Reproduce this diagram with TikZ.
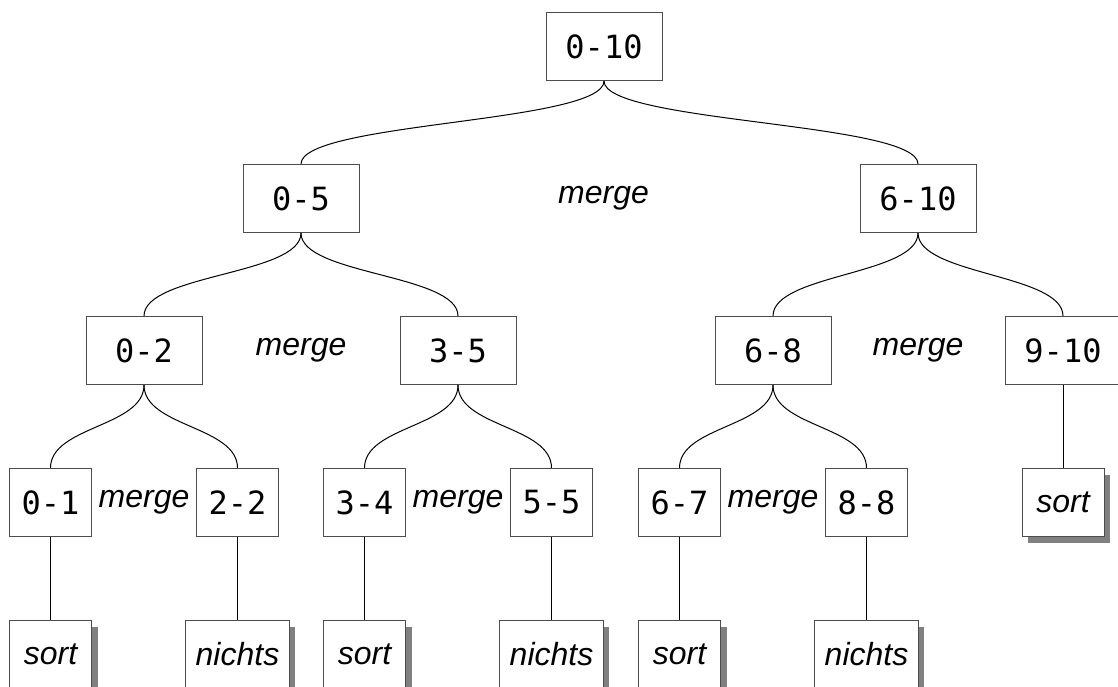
\documentclass[tikz,border=0pt]{standalone}
\usepackage{fontspec}
\setmonofont{DejaVu Sans Mono}
\setsansfont{Liberation Sans}
\usetikzlibrary{calc,positioning,shadows}
\tikzset{
    rangebox/.style={
        rectangle,
        draw=black!70,
        fill=white,
        align=center,
        minimum width=58pt,
        minimum height=34pt,
        inner xsep=5pt,
        line width=0.5pt,
        font=\fontsize{16pt}{19pt}\selectfont\ttfamily,
    },
    rangebox small/.style={
        rangebox,
        minimum width=41pt,
    },
    leaf/.style={
        rangebox small,
        font=\fontsize{16pt}{19pt}\selectfont\sffamily\itshape,
        drop shadow={shadow xshift=3pt,shadow yshift=-3pt,fill=black!50,opacity=1},
    },
    mergelabel/.style={
        font=\fontsize{16pt}{19pt}\selectfont\sffamily\itshape,
    },
    split/.style={
        line width=0.5pt,
        to path={(\tikztostart) .. controls +(0pt,-21pt) and +(0pt,21pt) .. (\tikztotarget)},
    },
}
\begin{document}
\begin{tikzpicture}[x=0.5pt,y=-0.5pt,node distance=41.5pt]
        \useasboundingbox (0,0) rectangle (1118,686);
        % ranges
        \node[rangebox] (r010) at (604,46.5) {0-10};
        \node[rangebox,below=of r010,xshift=-151.5pt] (r05) {0-5};
        \node[rangebox,below=of r010,xshift=157pt] (r610) {6-10};

        \node[rangebox,below=of r05,xshift=-78.5pt] (r02) {0-2};
        \node[rangebox,below=of r05,xshift=78.5pt] (r35) {3-5};
        \node[rangebox,below=of r610,xshift=-72.5pt] (r68) {6-8};
        \node[rangebox,below=of r610,xshift=72.5pt] (r910) {9-10};

        \node[rangebox small,below=of r02,xshift=-46.75pt] (r01) {0-1};
        \node[rangebox small,below=of r02,xshift=46.75pt] (r22) {2-2};
        \node[rangebox small,below=of r35,xshift=-46.75pt] (r34) {3-4};
        \node[rangebox small,below=of r35,xshift=46.75pt] (r55) {5-5};
        \node[rangebox small,below=of r68,xshift=-46.75pt] (r67) {6-7};
        \node[rangebox small,below=of r68,xshift=46.75pt] (r88) {8-8};
        \node[leaf,below=of r910] (s910) {sort};

        % leaves
        \node[leaf,below=of r01] (s01) {sort};
        \node[leaf,below=of r22] (s22) {nichts};
        \node[leaf,below=of r34] (s34) {sort};
        \node[leaf,below=of r55] (s55) {nichts};
        \node[leaf,below=of r67] (s67) {sort};
        \node[leaf,below=of r88] (s88) {nichts};

        % merge steps
        \node[mergelabel,xshift=-3pt] (m1) at ($(r05)!0.5!(r610)$) {merge};
        \node[mergelabel] (m2) at ($(r02)!0.5!(r35)$) {merge};
        \node[mergelabel] (m3) at ($(r68)!0.5!(r910)$) {merge};
        \node[mergelabel] (m4) at ($(r01)!0.5!(r22)$) {merge};
        \node[mergelabel] (m5) at ($(r34)!0.5!(r55)$) {merge};
        \node[mergelabel] (m6) at ($(r67)!0.5!(r88)$) {merge};

        \draw[split] (r010.south) to (r05.north);
        \draw[split] (r010.south) to (r610.north);
        \draw[split] (r05.south) to (r02.north);
        \draw[split] (r05.south) to (r35.north);
        \draw[split] (r610.south) to (r68.north);
        \draw[split] (r610.south) to (r910.north);
        \draw[split] (r02.south) to (r01.north);
        \draw[split] (r02.south) to (r22.north);
        \draw[split] (r35.south) to (r34.north);
        \draw[split] (r35.south) to (r55.north);
        \draw[split] (r68.south) to (r67.north);
        \draw[split] (r68.south) to (r88.north);
        \draw[split] (r910.south) -- (s910.north);
        \draw[split] (r01.south) -- (s01.north);
        \draw[split] (r22.south) -- (s22.north);
        \draw[split] (r34.south) -- (s34.north);
        \draw[split] (r55.south) -- (s55.north);
        \draw[split] (r67.south) -- (s67.north);
        \draw[split] (r88.south) -- (s88.north);
    \end{tikzpicture}
\end{document}
